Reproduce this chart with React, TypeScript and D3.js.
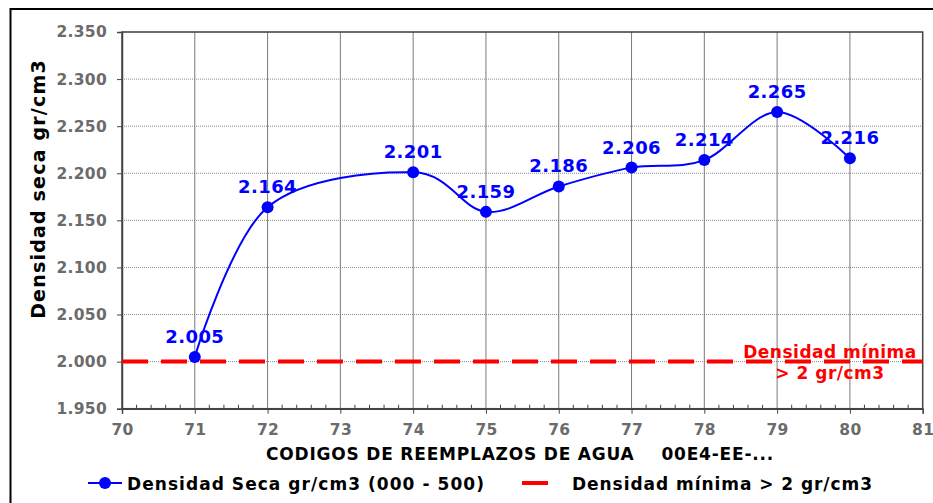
import React, { useEffect, useRef } from 'react';
import * as d3 from 'd3';

// datos del ensayo
const codigos = [71, 72, 74, 75, 76, 77, 78, 79, 80];
const densidades = [2.005, 2.164, 2.201, 2.159, 2.186, 2.206, 2.214, 2.265, 2.216];
const xTicks = [70, 71, 72, 73, 74, 75, 76, 77, 78, 79, 80, 81];
const yTicks = [1.95, 2.0, 2.05, 2.1, 2.15, 2.2, 2.25, 2.3, 2.35];
const densidadMinima = 2.0;

const FONT = '"DejaVu Sans", Verdana, sans-serif';

const App = () => {
    const svgRef = useRef<SVGSVGElement>(null);

    useEffect(() => {
        const svg = d3.select(svgRef.current);
        svg.selectAll('*').remove();

        const left = 122, right = 922.7, top = 32, bottom = 408.7;

        // marco exterior
        svg.append('rect')
            .attr('x', 10.5).attr('y', 9).attr('width', 940).attr('height', 520)
            .attr('fill', 'none').attr('stroke', '#000').attr('stroke-width', 2);

        const x = d3.scaleLinear().domain([70, 81]).range([left, right]);
        const y = d3.scaleLinear().domain([1.95, 2.35]).range([bottom, top]);

        // rejilla horizontal
        svg.append('g')
            .selectAll('line')
            .data(yTicks.slice(1))
            .enter()
            .append('line')
            .attr('x1', left).attr('x2', right)
            .attr('y1', d => y(d)).attr('y2', d => y(d))
            .attr('stroke', '#8a8a8a').attr('stroke-width', 1)
            .attr('stroke-dasharray', '1,1');

        // rejilla vertical
        svg.append('g')
            .selectAll('line')
            .data(xTicks.slice(1, -1))
            .enter()
            .append('line')
            .attr('x1', d => x(d)).attr('x2', d => x(d))
            .attr('y1', top).attr('y2', bottom)
            .attr('stroke', '#7a7a7a').attr('stroke-width', 1);

        // borde del area de trazado
        svg.append('rect')
            .attr('x', left).attr('y', top)
            .attr('width', right - left).attr('height', bottom - top)
            .attr('fill', 'none').attr('stroke', '#444').attr('stroke-width', 1.5);

        // eje x
        const xAxis = d3.axisBottom(x).tickValues(xTicks).tickSize(5).tickFormat(d3.format('d'));
        const gx = svg.append('g').attr('transform', `translate(0, ${bottom})`).call(xAxis);
        gx.select('.domain').attr('stroke', '#444').attr('stroke-width', 1.5);
        gx.selectAll('.tick line').attr('stroke', '#444');
        gx.selectAll('text')
            .attr('y', 15)
            .attr('font-family', FONT).attr('font-size', 15.5).attr('font-weight', 'bold')
            .attr('letter-spacing', 0.3)
            .attr('fill', '#6b6b6b');

        // ticks menores
        const minors = d3.range(70, 81.001, 0.2).filter(v => Math.abs(v - Math.round(v)) > 0.01);
        svg.append('g')
            .selectAll('line')
            .data(minors)
            .enter()
            .append('line')
            .attr('x1', d => x(d)).attr('x2', d => x(d))
            .attr('y1', bottom - 4).attr('y2', bottom)
            .attr('stroke', '#444');

        // eje y
        const yAxis = d3.axisLeft(y).tickValues(yTicks).tickSize(5).tickFormat(d3.format('.3f'));
        const gy = svg.append('g').attr('transform', `translate(${left}, 0)`).call(yAxis);
        gy.select('.domain').attr('stroke', '#444').attr('stroke-width', 1.5);
        gy.selectAll('.tick line').attr('stroke', '#444');
        gy.selectAll('text')
            .attr('x', -15)
            .attr('font-family', FONT).attr('font-size', 15.5).attr('font-weight', 'bold')
            .attr('letter-spacing', 0.3)
            .attr('fill', '#6b6b6b');

        // linea de densidad minima
        svg.append('line')
            .attr('x1', left).attr('x2', right)
            .attr('y1', y(densidadMinima)).attr('y2', y(densidadMinima))
            .attr('stroke', '#ff0000').attr('stroke-width', 4)
            .attr('stroke-dasharray', '26,13');

        // curva suavizada
        const pts = codigos.map((c, i) => ({ c, v: densidades[i] }));
        const line = d3.line<{ c: number; v: number }>()
            .x(d => x(d.c))
            .y(d => y(d.v))
            .curve(d3.curveCardinal.tension(0));
        svg.append('path')
            .datum(pts)
            .attr('d', line)
            .attr('fill', 'none')
            .attr('stroke', '#0000ff')
            .attr('stroke-width', 2);

        svg.append('g')
            .selectAll('circle')
            .data(pts)
            .enter()
            .append('circle')
            .attr('cx', d => x(d.c)).attr('cy', d => y(d.v))
            .attr('r', 6)
            .attr('fill', '#0000ff');

        svg.append('g')
            .selectAll('text')
            .data(pts)
            .enter()
            .append('text')
            .attr('x', d => x(d.c)).attr('y', d => y(d.v) - 14)
            .attr('text-anchor', 'middle')
            .attr('font-family', FONT).attr('font-size', 18).attr('font-weight', 'bold')
            .attr('letter-spacing', 0.4)
            .attr('fill', '#0000ff')
            .text(d => d3.format('.3f')(d.v));

        // anotacion roja
        const ann = svg.append('text')
            .attr('text-anchor', 'middle')
            .attr('font-family', FONT).attr('font-size', 17).attr('font-weight', 'bold')
            .attr('letter-spacing', 0.5)
            .attr('fill', '#ff0000');
        ann.append('tspan').attr('x', 830).attr('y', 358).text('Densidad mínima');
        ann.append('tspan').attr('x', 830).attr('y', 379).text('> 2 gr/cm3');

        // titulos
        svg.append('text')
            .attr('transform', 'translate(45, 189) rotate(-90)')
            .attr('text-anchor', 'middle')
            .attr('font-family', FONT).attr('font-size', 19).attr('font-weight', 'bold')
            .attr('letter-spacing', 1.2)
            .attr('fill', '#000')
            .text('Densidad seca gr/cm3');

        svg.append('text')
            .attr('x', 520).attr('y', 460)
            .attr('text-anchor', 'middle')
            .attr('font-family', FONT).attr('font-size', 17).attr('font-weight', 'bold')
            .attr('letter-spacing', 0.8)
            .attr('fill', '#000')
            .attr('xml:space', 'preserve')
            .style('white-space', 'pre')
            .text('CODIGOS DE REEMPLAZOS DE AGUA    00E4-EE-...');

        // leyenda
        const lg = svg.append('g');
        lg.append('line').attr('x1', 88).attr('x2', 122).attr('y1', 483).attr('y2', 483)
            .attr('stroke', '#0000ff').attr('stroke-width', 2);
        lg.append('circle').attr('cx', 105).attr('cy', 483).attr('r', 6).attr('fill', '#0000ff');
        lg.append('text').attr('x', 127).attr('y', 490)
            .attr('font-family', FONT).attr('font-size', 17).attr('font-weight', 'bold')
            .attr('letter-spacing', 1.05)
            .text('Densidad Seca gr/cm3 (000 - 500)');
        lg.append('line').attr('x1', 522).attr('x2', 560).attr('y1', 483).attr('y2', 483)
            .attr('stroke', '#ff0000').attr('stroke-width', 4).attr('stroke-dasharray', '26,13');
        lg.append('text').attr('x', 572).attr('y', 490)
            .attr('font-family', FONT).attr('font-size', 17).attr('font-weight', 'bold')
            .attr('letter-spacing', 0.95)
            .text('Densidad mínima > 2 gr/cm3');
    }, []);

    return (
        <svg ref={svgRef} width={933} height={503}
            style={{ position: 'absolute', left: 0, top: 0, background: '#fff' }} />
    );
};

export default App;
